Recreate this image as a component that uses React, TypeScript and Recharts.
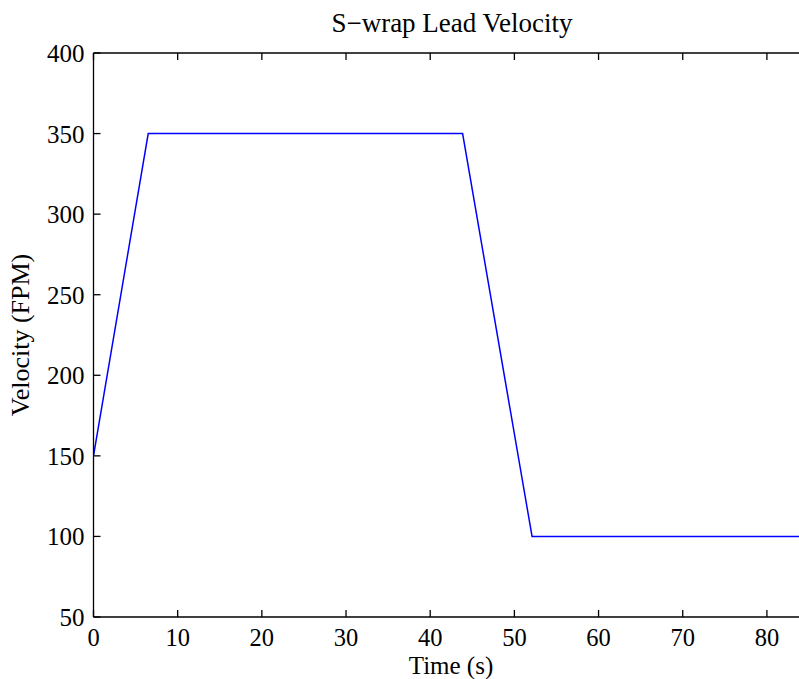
import { LineChart, Line, XAxis, YAxis } from 'recharts';

// time (s) and lead velocity (FPM)
const timeS = [0, 6.5, 10, 20, 30, 40, 43.85, 52.1, 60, 70, 80, 85];
const velocityFpm = [150, 350, 350, 350, 350, 350, 350, 100, 100, 100, 100, 100];

const xTicks = [0, 10, 20, 30, 40, 50, 60, 70, 80];
const yTicks = [50, 100, 150, 200, 250, 300, 350, 400];

const data = timeS.map((t, i) => ({ t, v: velocityFpm[i] }));

const FONT = '"Liberation Serif", "DejaVu Serif", serif';
const TICK_LEN = 7;
const AX_H = 30;
const AX_W = 60;

const BottomTick = (props: any) => {
  const { x, y, payload } = props;
  return (
    <g>
      <line x1={x} y1={y} x2={x} y2={y - TICK_LEN} stroke="#000" strokeWidth={1.3} />
      <text x={x} y={y + 29} textAnchor="middle" fontFamily={FONT} fontSize={24.5} fill="#000">
        {payload.value}
      </text>
    </g>
  );
};

const TopTick = (props: any) => {
  const { x, y } = props;
  return <line x1={x} y1={y} x2={x} y2={y + TICK_LEN} stroke="#000" strokeWidth={1.3} />;
};

const LeftTick = (props: any) => {
  const { x, y, payload } = props;
  return (
    <g>
      <line x1={x} y1={y} x2={x + TICK_LEN} y2={y} stroke="#000" strokeWidth={1.3} />
      <text x={x - 9} y={y + 9} textAnchor="end" fontFamily={FONT} fontSize={25} fill="#000">
        {payload.value}
      </text>
    </g>
  );
};

export default function App() {
  return (
    <div style={{ position: 'absolute', left: 0, top: 0, width: 799, height: 679, overflow: 'hidden', background: '#fff' }}>
      <LineChart
        width={812}
        height={679}
        data={data}
        margin={{ top: 53 - AX_H, right: 3, left: 93.5 - AX_W, bottom: 62 - AX_H }}
      >
        <XAxis
          dataKey="t"
          type="number"
          domain={[0, 85]}
          ticks={xTicks}
          allowDataOverflow
          height={AX_H}
          tickSize={0}
          tickMargin={0}
          tickLine={false}
          axisLine={{ stroke: '#000', strokeWidth: 1.3 }}
          tick={<BottomTick />}
          interval={0}
        />
        <XAxis
          xAxisId="top"
          orientation="top"
          dataKey="t"
          type="number"
          domain={[0, 85]}
          ticks={xTicks}
          allowDataOverflow
          height={AX_H}
          tickSize={0}
          tickMargin={0}
          tickLine={false}
          axisLine={{ stroke: '#000', strokeWidth: 1.3 }}
          tick={<TopTick />}
          interval={0}
        />
        <YAxis
          type="number"
          domain={[50, 400]}
          ticks={yTicks}
          allowDataOverflow
          width={AX_W}
          tickSize={0}
          tickMargin={0}
          tickLine={false}
          axisLine={{ stroke: '#000', strokeWidth: 1.3 }}
          tick={<LeftTick />}
          interval={0}
        />
        <Line
          dataKey="v"
          stroke="#0000ff"
          strokeWidth={1.5}
          dot={false}
          activeDot={false}
          isAnimationActive={false}
        />
        <text x={452} y={32} textAnchor="middle" fontFamily={FONT} fontSize={27} fill="#000">
          S−wrap Lead Velocity
        </text>
        <text x={451} y={674} textAnchor="middle" fontFamily={FONT} fontSize={25} fill="#000">
          Time (s)
        </text>
        <text
          x={29}
          y={335}
          textAnchor="middle"
          fontFamily={FONT}
          fontSize={26}
          fill="#000"
          transform="rotate(-90, 29, 335)"
        >
          Velocity (FPM)
        </text>
      </LineChart>
    </div>
  );
}
